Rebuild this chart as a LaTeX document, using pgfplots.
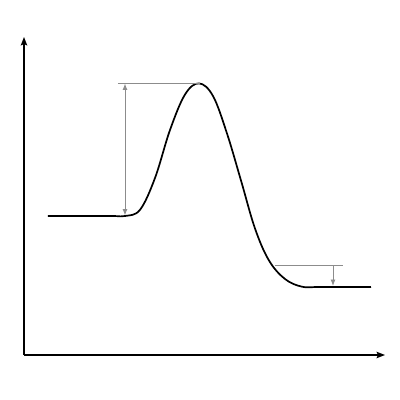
\documentclass[border=0pt]{standalone}
\usepackage{pgfplots}
\pgfplotsset{compat=1.18}
\usetikzlibrary{arrows.meta}
\definecolor{guide}{HTML}{8C8C8C}

% energy profile (x in px, y = 400 - row)
\begin{document}
\begin{tikzpicture}
\begin{axis}[
    scale only axis,
    width=361pt, height=318pt,
    xmin=24, xmax=385,
    ymin=45, ymax=363,
    axis x line=bottom, axis y line=left,
    axis line style={line width=1.3pt, -{Stealth[length=8.5pt,width=6.5pt,inset=1.5pt]}},
    ticks=none,
    clip=false,
]
    \path (axis cs:0,0) rectangle (axis cs:400,400);

    % reaction path
    \addplot[black, line width=1.7pt, smooth, tension=0.6] coordinates {
        (48,184) (110,184) (125,184) (140,190.2) (155,222) (170,270)
        (185,305.5) (199,316.6) (213,304) (227,266.5) (241,219.5)
        (255,171.5) (269,139.5) (285,121) (302,113.3) (320,113) (371,113)
    };

    % activation energy
    \addplot[guide, line width=0.9pt] coordinates {(118,317) (200,317)};
    \addplot[guide, line width=0.9pt, {Latex[length=6.5pt,width=5pt]}-{Latex[length=6.5pt,width=5pt]}]
        coordinates {(125,316.5) (125,184.5)};

    % energy released
    \addplot[guide, line width=0.9pt] coordinates {(275,134.5) (343,134.5)};
    \addplot[guide, line width=0.9pt, -{Latex[length=6.5pt,width=5pt]}]
        coordinates {(333,134.5) (333,114)};
\end{axis}
\end{tikzpicture}
\end{document}
